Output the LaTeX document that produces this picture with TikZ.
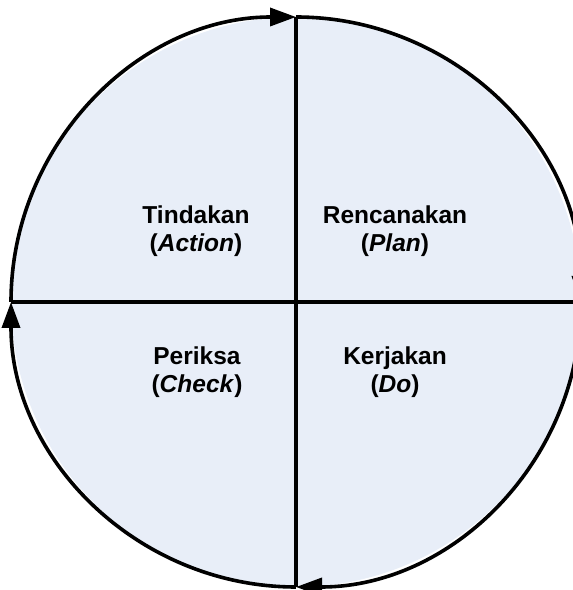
\documentclass[tikz,border=0pt]{standalone}
\usepackage{fontspec}
\setmainfont{Liberation Sans}
\usetikzlibrary{arrows.meta}
\definecolor{qfill}{RGB}{232,238,248}
\begin{document}
\begin{tikzpicture}[x=1pt,y=1pt,
  ring/.style={line width=3.6pt},
  axis/.style={line width=3.4pt},
  flowtip/.style={-{Triangle[length=26pt,width=18pt]}},
  lbl/.style={align=center,font=\fontsize{24.5}{28}\selectfont\bfseries,inner sep=0pt}]
\useasboundingbox (0,0) rectangle (573,590);
\coordinate (c) at (296,288);
\coordinate (t) at (296,573);
\coordinate (b) at (296,3);
\coordinate (l) at (11,288);
\coordinate (r) at (581,288);
\fill[qfill] (c) circle[radius=285];
\draw[ring,flowtip] (l) arc[start angle=180,end angle=90,radius=285];
\draw[ring,flowtip] (t) arc[start angle=90,end angle=0,radius=285];
\draw[ring,flowtip] (r) arc[start angle=0,end angle=-90,radius=285];
\draw[ring,flowtip] (b) arc[start angle=-90,end angle=-180,radius=285];
\draw[axis] (l) -- (r);
\draw[axis] (t) -- (b);
\node[lbl] (act) at (196,359) {Tindakan\\(\textit{Action})};
\node[lbl] (plan) at (395,359) {Rencanakan\\(\textit{Plan})};
\node[lbl] (chk) at (197,218) {Periksa\\(\textit{Check})};
\node[lbl] (do) at (395,218) {Kerjakan\\(\textit{Do})};
\end{tikzpicture}
\end{document}
